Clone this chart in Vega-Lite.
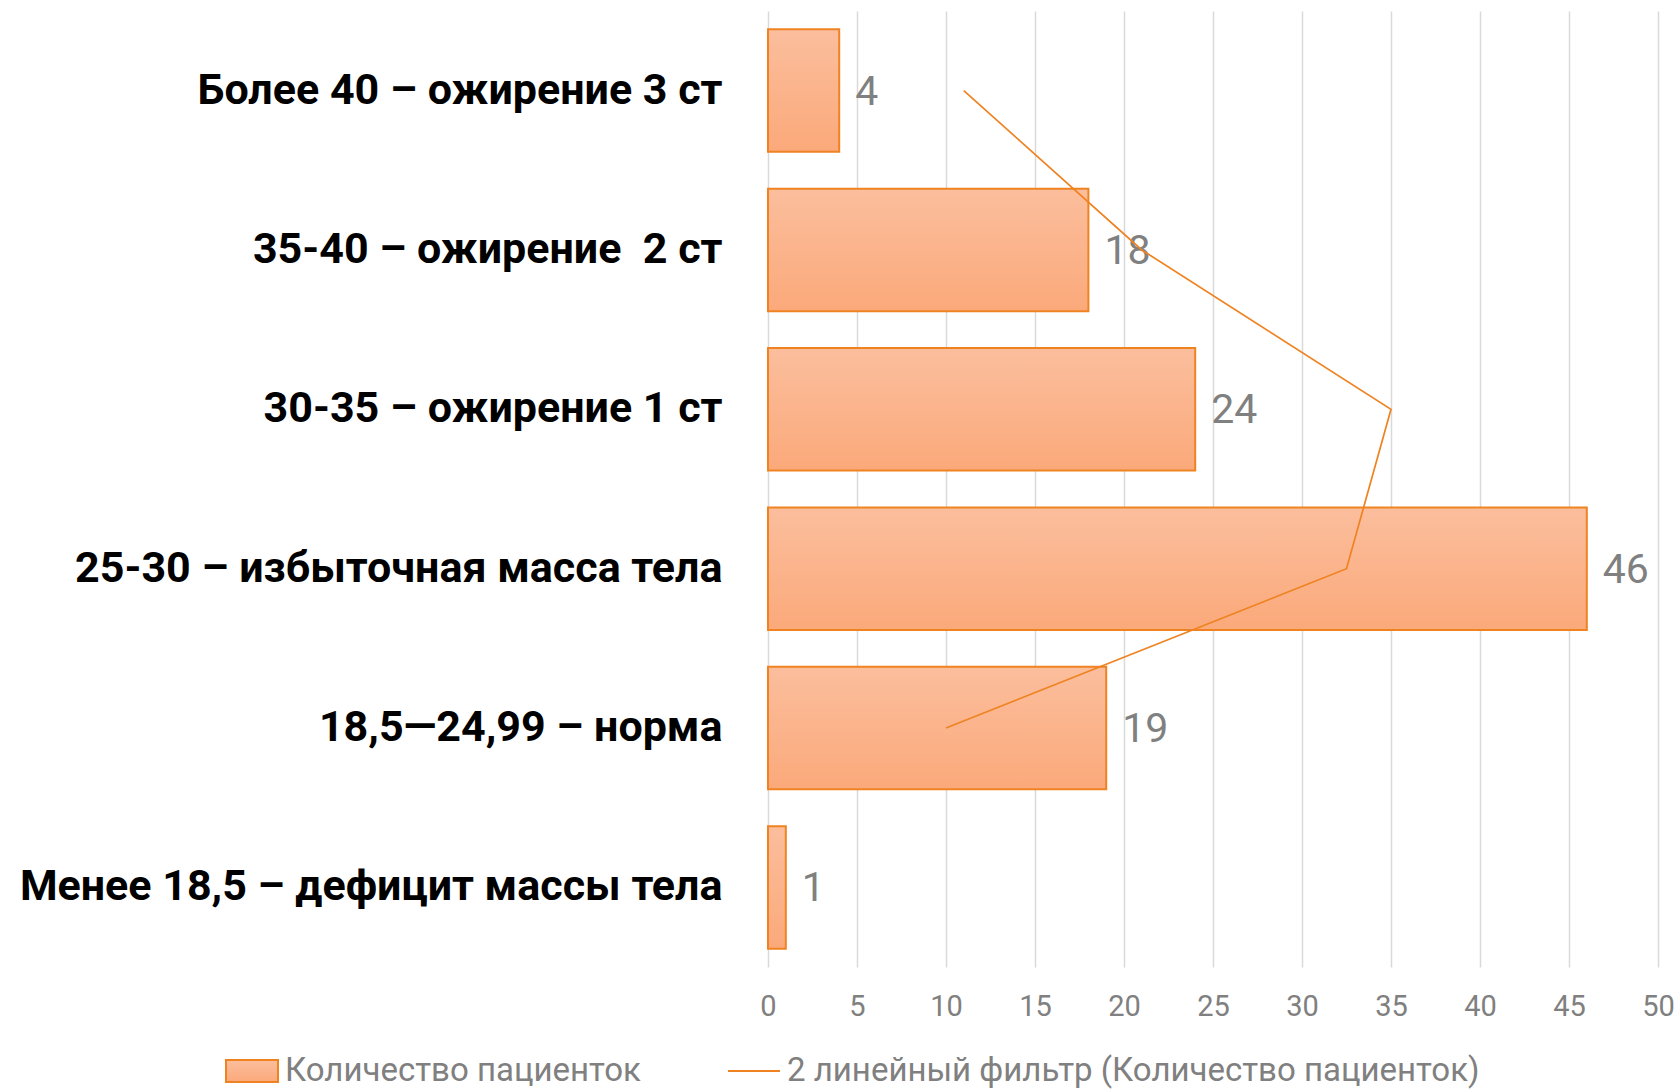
{
  "$schema": "https://vega.github.io/schema/vega-lite/v6.json",
  "autosize": {"type": "none"},
  "padding": {"left": 768, "top": 11, "right": 18, "bottom": 123},
  "width": 890,
  "height": 956,
  "background": "#ffffff",
  "view": {"stroke": null},
  "data": {
    "values": [
      {"cat": "Более 40 – ожирение 3 ст", "n": 4, "ma": 11, "idx": 1, "s1": "Количество пациенток", "s2": "2 линейный фильтр (Количество пациенток)"},
      {"cat": "35-40 – ожирение \u00a02 ст", "n": 18, "ma": 21, "idx": 2, "s1": "Количество пациенток", "s2": "2 линейный фильтр (Количество пациенток)"},
      {"cat": "30-35 – ожирение 1 ст", "n": 24, "ma": 35, "idx": 3, "s1": "Количество пациенток", "s2": "2 линейный фильтр (Количество пациенток)"},
      {"cat": "25-30 – избыточная масса тела", "n": 46, "ma": 32.5, "idx": 4, "s1": "Количество пациенток", "s2": "2 линейный фильтр (Количество пациенток)"},
      {"cat": "18,5—24,99 – норма", "n": 19, "ma": 10, "idx": 5, "s1": "Количество пациенток", "s2": "2 линейный фильтр (Количество пациенток)"},
      {"cat": "Менее 18,5 – дефицит массы тела", "n": 1, "ma": null, "idx": 6, "s1": "Количество пациенток", "s2": "2 линейный фильтр (Количество пациенток)"}
    ]
  },
  "encoding": {
    "y": {
      "field": "cat",
      "type": "nominal",
      "sort": ["Более 40 – ожирение 3 ст", "35-40 – ожирение \u00a02 ст", "30-35 – ожирение 1 ст", "25-30 – избыточная масса тела", "18,5—24,99 – норма", "Менее 18,5 – дефицит массы тела"],
      "scale": {"paddingInner": 0.231, "paddingOuter": 0.115},
      "axis": {
        "title": null,
        "domain": false,
        "ticks": false,
        "labelPadding": 46,
        "labelFont": "Roboto",
        "labelFontSize": 43,
        "labelFontWeight": "bold",
        "labelColor": "#000000",
        "labelLimit": 900
      }
    }
  },
  "layer": [
    {
      "mark": {
        "type": "bar",
        "color": {
          "gradient": "linear",
          "x1": 0, "y1": 0, "x2": 0, "y2": 1,
          "stops": [
            {"offset": 0, "color": "#FBBE9D"},
            {"offset": 1, "color": "#FBA97A"}
          ]
        },
        "strokeWidth": 2
      },
      "encoding": {
        "x": {
          "field": "n",
          "type": "quantitative",
          "scale": {"domain": [0, 50]},
          "axis": {
            "title": null,
            "values": [0, 5, 10, 15, 20, 25, 30, 35, 40, 45, 50],
            "domain": false,
            "ticks": false,
            "grid": true,
            "gridColor": "#d9d9d9",
            "gridWidth": 1.5,
            "labelFlush": false,
            "labelPadding": 25,
            "labelFont": "Roboto",
            "labelFontSize": 29,
            "labelColor": "#808080"
          }
        },
        "stroke": {
          "field": "s1",
          "type": "nominal",
          "scale": {"range": ["#EF8322"]},
          "legend": {
            "title": null,
            "orient": "none",
            "legendX": -543,
            "legendY": 1033,
            "labelFont": "Roboto",
            "labelFontSize": 33,
            "labelColor": "#808080",
            "labelOffset": 6,
            "labelLimit": 1000,
            "symbolType": "M-1,-0.42H1V0.42H-1Z",
            "symbolSize": 2704,
            "symbolStrokeWidth": 2
          }
        }
      }
    },
    {
      "mark": {"type": "text", "align": "left", "baseline": "middle", "dx": 16, "dy": 2, "font": "Roboto", "fontSize": 41, "color": "#808080"},
      "encoding": {
        "x": {"field": "n", "type": "quantitative"},
        "text": {"field": "n", "type": "quantitative"}
      }
    },
    {
      "mark": {"type": "line", "strokeWidth": 1.7},
      "encoding": {
        "x": {"field": "ma", "type": "quantitative"},
        "order": {"field": "idx", "type": "quantitative"},
        "stroke": {
          "field": "s2",
          "type": "nominal",
          "scale": {"range": ["#EF8322"]},
          "legend": {
            "title": null,
            "orient": "none",
            "legendX": -41,
            "legendY": 1033,
            "labelFont": "Roboto",
            "labelFontSize": 33,
            "labelColor": "#808080",
            "labelOffset": 6,
            "labelLimit": 1000,
            "symbolType": "stroke",
            "symbolSize": 2704,
            "symbolStrokeWidth": 2
          }
        }
      }
    }
  ],
  "resolve": {"scale": {"stroke": "independent"}, "legend": {"stroke": "independent"}}
}
